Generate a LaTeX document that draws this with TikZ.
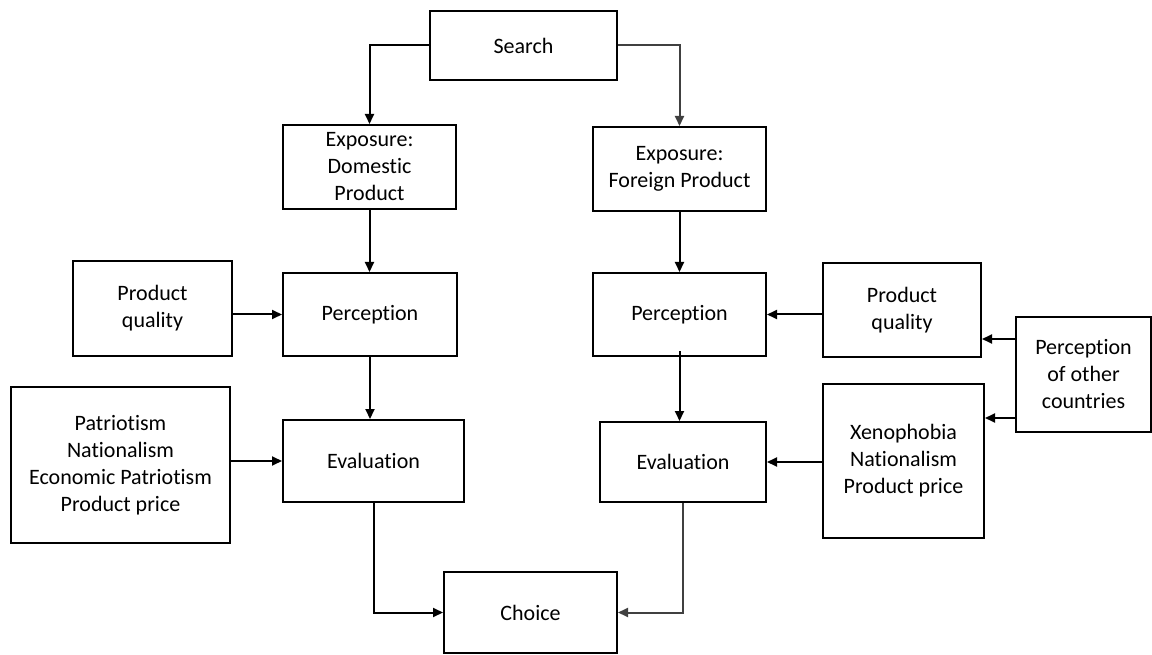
\documentclass[tikz,border=0pt]{standalone}
\usepackage{fontspec}
\setmainfont{Carlito}[Ligatures=NoCommon]
\usetikzlibrary{arrows.meta}
\begin{document}
\begin{tikzpicture}[x=1pt,y=-1pt,
  box/.style={draw=black, line width=2pt, rectangle, inner sep=0pt, align=center,
    font=\fontsize{22}{27}\selectfont},
  arr/.style={draw=black, line width=2pt, -{Triangle[length=10pt,width=9pt]}},
  garr/.style={arr, draw=black!75}]
\useasboundingbox (0,0) rectangle (1152,655);
\node[box, minimum width=187pt, minimum height=69pt] (search) at (523.5,45.5) {Search};
\node[box, minimum width=173pt, minimum height=84pt] (expd) at (369.5,167) {Exposure:\\Domestic\\Product};
\node[box, minimum width=173pt, minimum height=84pt] (expf) at (679.5,169) {Exposure:\\Foreign Product};
\node[box, minimum width=174pt, minimum height=83pt] (percL) at (370,314.5) {Perception};
\node[box, minimum width=159pt, minimum height=95pt] (pqL) at (152.5,308.5) {Product\\quality};
\node[box, minimum width=219pt, minimum height=156pt] (patr) at (120.5,465) {Patriotism\\Nationalism\\Economic Patriotism\\Product price};
\node[box, minimum width=181pt, minimum height=82pt] (evalL) at (373.5,461) {Evaluation};
\node[box, minimum width=173pt, minimum height=81pt] (choice) at (530.5,612.5) {Choice};
\node[box, minimum width=173pt, minimum height=83pt] (percR) at (679.5,314.5) {Perception};
\node[box, minimum width=166pt, minimum height=80pt] (evalR) at (683,462) {Evaluation};
\node[box, minimum width=158pt, minimum height=94pt] (pqR) at (902,310) {Product\\quality};
\node[box, minimum width=161pt, minimum height=154pt] (xeno) at (903.5,461) {Xenophobia\\Nationalism\\Product price};
\node[box, minimum width=135pt, minimum height=115pt] (poc) at (1083.5,374.5) {Perception\\of other\\countries};

\draw[arr] (search.west) -| (expd.north);
\draw[garr] (search.east) -| (expf.north);
\draw[arr] (expd.south) -- (expd.south |- percL.north);
\draw[arr] (percL.south) -- (percL.south |- evalL.north);
\draw[arr] (pqL.east |- percL.west) -- (percL.west);
\draw[arr] (patr.east |- evalL.west) -- (evalL.west);
\draw[arr] (evalL.south) |- (choice.west);
\draw[arr] (expf.south) -- (expf.south |- percR.north);
\draw[arr] ([yshift=6pt]percR.south) -- (percR.south |- evalR.north);
\draw[arr] (pqR.west |- percR.east) -- (percR.east);
\draw[arr] (xeno.west |- evalR.east) -- (evalR.east);
\draw[garr] (evalR.south) |- (choice.east);
\draw[arr] (poc.west |- 0,339) -- (pqR.east |- 0,339);
\draw[arr] (poc.west |- 0,418) -- (xeno.east |- 0,418);
\end{tikzpicture}
\end{document}
